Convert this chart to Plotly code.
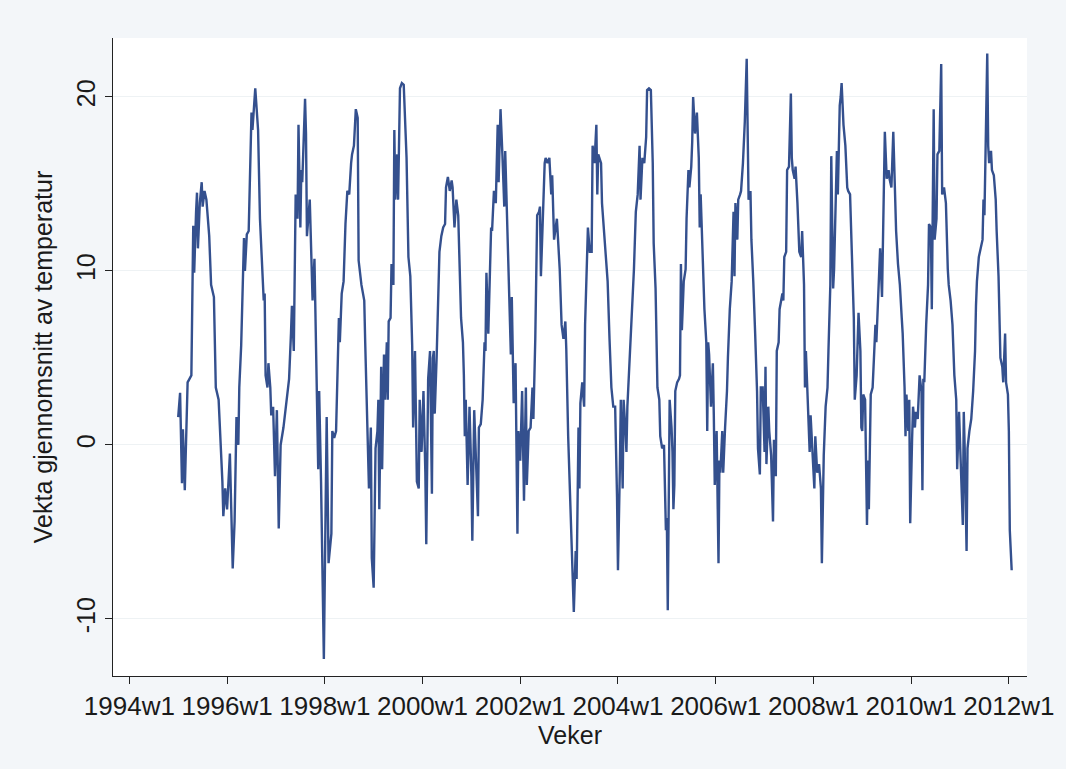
import plotly.graph_objects as go

# x = week index counted from 1994w1 (Stata weekly: 52 weeks per year)
tick_labels = ["1994w1", "1996w1", "1998w1", "2000w1", "2002w1",
               "2004w1", "2006w1", "2008w1", "2010w1", "2012w1"]
y_ticks = [-10, 0, 10, 20]

wk_95_96 = [52, 54, 56, 57, 59, 61, 62, 64, 66, 68, 69, 71, 72, 73, 75, 77, 78, 80, 82, 85,
            87, 90, 92, 95, 97, 99, 100, 102, 104, 107, 109, 110, 112, 114, 116, 117, 119, 120,
            122, 123, 125, 127, 130, 131, 134, 137, 139, 143, 144, 145, 147]
t_95_96 = [1.6, 3.0, -2.2, 0.9, -2.6, 1.4, 3.6, 3.8, 4.0, 12.6, 9.9, 13.4, 14.5, 11.3, 13.9, 15.1,
           13.7, 14.6, 14.1, 12.0, 9.2, 8.5, 3.3, 2.6, 0.3, -2.1, -4.1, -2.5, -3.7, -0.5, -4.9,
           -7.1, -4.4, 1.6, 0.0, 3.3, 5.7, 8.5, 11.9, 10.0, 12.1, 12.3, 19.1, 18.1, 20.5, 18.1,
           13.0, 8.3, 8.7, 4.0, 3.3]

wk_97_98 = [148, 150, 151, 153, 155, 157, 159, 161, 164, 167, 170, 172, 173, 175, 177, 179, 180,
            182, 183, 184, 187, 188, 189, 192, 194, 195, 197, 199, 201, 202, 204, 207, 208, 210,
            212, 215, 216, 218, 220, 222, 223, 224, 226, 228, 230, 232, 234, 236, 237, 239, 241,
            243, 244, 247, 250, 251]
t_97_98 = [4.7, 3.3, 1.7, 2.2, -1.8, 2.0, -4.8, 0.0, 1.0, 2.6, 3.8, 6.4, 8.0, 5.4, 14.4, 13.0,
           18.4, 12.5, 15.8, 15.1, 19.9, 17.9, 12.0, 14.1, 10.8, 8.3, 10.7, 3.3, -1.4, 3.1, -2.1,
           -12.3, -6.8, 1.6, -6.8, -5.1, 0.8, 0.4, 0.8, 4.7, 7.3, 5.9, 8.7, 9.4, 12.7, 14.6, 14.4,
           16.2, 16.7, 17.2, 19.3, 18.8, 10.6, 9.2, 8.3, 5.9]

wk_99_00 = [253, 255, 257, 258, 260, 262, 264, 265, 266, 268, 269, 271, 272, 274, 275, 276, 278,
            279, 281, 282, 283, 285, 286, 288, 290, 292, 294, 295, 297, 299, 301, 302, 304, 306,
            308, 309, 311, 313, 315, 316, 318, 320, 322, 323, 324, 325, 327, 329, 330, 332, 334,
            336, 337, 339, 341, 343, 344, 346, 348, 350, 351, 353, 355, 356, 357]
t_99_00 = [1.7, -2.5, 1.0, -6.5, -8.2, -0.2, 0.8, 2.6, -3.7, 4.5, -1.4, 5.2, 2.6, 5.9, 2.6, 7.1,
           7.3, 10.4, 9.2, 18.1, 14.1, 16.7, 14.1, 20.5, 20.8, 20.7, 17.9, 16.5, 10.8, 9.7, 5.7,
           1.0, 5.4, -2.1, -2.5, 2.6, -0.4, 3.1, -1.6, -5.7, 3.8, 5.4, -2.8, 5.0, 5.4, 1.8, 5.0,
           9.2, 11.1, 12.0, 12.5, 12.7, 14.8, 15.4, 14.6, 15.2, 14.8, 12.5, 14.1, 13.2, 10.6, 7.3,
           5.9, 4.0, 0.5]

wk_01_02 = [358, 360, 362, 364, 365, 367, 369, 371, 372, 374, 376, 378, 379, 380, 382, 383, 385,
            386, 388, 390, 392, 393, 395, 397, 399, 400, 402, 404, 406, 407, 409, 411, 413, 414,
            416, 418, 420, 422, 423, 425, 427, 429, 430, 432, 434, 436, 437, 438, 440, 442, 443,
            445, 447, 449, 450, 452, 455, 457, 458, 460, 462]
t_01_02 = [2.6, -2.3, 2.2, -1.8, -5.5, 2.0, -1.1, -4.1, 1.0, 1.2, 2.6, 5.9, 5.4, 9.9, 6.4, 8.5,
           12.5, 12.3, 14.6, 13.9, 18.4, 15.1, 19.3, 16.7, 13.7, 16.9, 13.4, 9.7, 5.2, 8.5, 2.4,
           4.7, -5.1, 0.8, -0.9, 3.1, -3.2, 3.3, -2.3, 0.8, 1.0, 3.3, 1.5, 6.1, 13.2, 13.4, 13.7,
           9.7, 13.4, 16.2, 16.5, 16.2, 16.5, 14.4, 15.5, 11.8, 13.0, 10.8, 10.1, 6.9, 6.1]

wk_03_04 = [464, 465, 467, 469, 471, 472, 473, 475, 476, 478, 479, 480, 482, 484, 485, 487, 488,
            490, 492, 493, 495, 497, 498, 499, 502, 503, 505, 508, 509, 511, 513, 515, 517, 519,
            520, 522, 523, 525, 526, 528, 529, 530, 532, 534, 536, 537, 539, 541, 543, 544, 546,
            548, 550, 551, 553, 555, 557, 558, 560, 562, 564, 565, 567]
t_03_04 = [7.1, 5.5, 0.5, -2.8, -5.1, -7.7, -9.6, -6.1, -7.7, 1.0, -2.5, 2.4, 3.6, 2.2, 6.9, 10.6,
           12.5, 11.1, 11.1, 17.2, 16.2, 18.4, 14.4, 16.7, 16.2, 13.9, 12.3, 10.1, 9.4, 6.1, 3.3,
           2.2, 2.2, -3.0, -7.2, -1.4, 2.6, -2.5, 2.6, 0.8, -0.4, 2.2, 4.5, 6.1, 8.7, 10.1, 13.4,
           14.4, 17.2, 14.1, 16.5, 16.2, 17.7, 20.4, 20.5, 20.4, 16.2, 11.6, 9.0, 3.3, 2.6, 0.5,
           -0.2]

wk_05_06 = [569, 571, 572, 573, 574, 575, 577, 578, 579, 580, 581, 583, 585, 586, 587, 588, 590,
            592, 593, 595, 596, 598, 599, 600, 602, 604, 606, 607, 608, 610, 612, 614, 615, 616,
            617, 619, 621, 622, 623, 625, 627, 628, 629, 631, 632, 634, 636, 637, 639, 641, 643,
            644, 645, 647, 648, 650, 651, 653, 655, 657, 658, 659, 661, 662, 664, 665, 666, 668,
            669, 671, 672]
t_05_06 = [0.0, -4.9, -4.2, -9.5, -3.7, 2.6, 1.0, -0.4, -3.7, -2.3, 3.1, 3.6, 3.8, 4.0, 10.4, 6.6,
           9.4, 10.1, 13.0, 15.8, 14.8, 16.0, 17.4, 20.0, 17.9, 19.1, 16.5, 12.5, 14.4, 10.4, 7.8,
           5.9, 0.8, 5.9, 5.2, 2.2, 4.7, 1.7, -2.3, 0.8, -6.8, -0.9, -1.6, 0.8, -1.6, 1.0, 3.1,
           5.0, 7.8, 9.4, 13.4, 9.7, 13.9, 11.8, 14.1, 14.4, 14.6, 16.2, 18.6, 22.2, 17.4, 14.1,
           14.6, 11.8, 9.4, 7.3, 6.4, 3.1, -0.2, -1.7, 3.3]

wk_07_08 = [674, 676, 677, 678, 680, 681, 683, 685, 686, 688, 689, 691, 692, 695, 696, 697, 699,
            700, 702, 704, 705, 706, 708, 709, 711, 713, 715, 716, 718, 719, 720, 723, 724, 725,
            727, 729, 730, 732, 734, 736, 737, 739, 741, 743, 744, 746, 747, 749, 750, 751, 753,
            754, 756, 757, 758, 760, 762, 764, 765, 767, 769, 771, 772, 774, 776, 778, 779]
t_07_08 = [3.3, -0.4, 4.5, -1.1, 2.2, 0.8, -0.6, -4.4, 0.3, -1.8, 5.4, 5.9, 7.8, 8.7, 8.3, 10.8,
           11.1, 15.8, 16.0, 20.2, 16.5, 15.8, 15.3, 16.0, 13.9, 11.1, 10.8, 12.3, 9.2, 3.3, 5.4,
           1.7, -0.4, 1.7, -0.6, -2.5, 0.5, -1.6, -1.1, -2.5, -6.8, -0.6, 2.2, 3.3, 5.4, 9.2, 16.6,
           9.0, 10.1, 12.5, 16.9, 14.4, 19.5, 20.0, 20.8, 18.4, 17.2, 14.8, 14.6, 14.4, 11.1, 7.3,
           2.6, 4.0, 7.6, 5.4, 1.0]

wk_09_10 = [780, 781, 783, 785, 786, 787, 789, 791, 792, 794, 795, 797, 799, 801, 802, 804, 806,
            808, 809, 811, 813, 815, 816, 818, 820, 822, 823, 825, 826, 827, 829, 830, 831, 833,
            834, 836, 837, 839, 841, 843, 844, 845, 846, 848, 850, 851, 853, 854, 856, 857, 859,
            860, 862, 864, 865, 867, 869, 871, 872]
t_09_10 = [0.8, 2.9, 2.6, -4.6, -0.9, -3.7, 2.9, 3.3, 4.5, 6.9, 5.9, 8.7, 11.3, 8.5, 11.6, 18.0,
           15.3, 15.8, 15.3, 14.8, 18.0, 14.1, 12.3, 10.4, 9.2, 7.3, 6.4, 3.3, 0.5, 2.9, 0.8, 2.6,
           -4.5, 0.3, 2.2, 1.0, 1.9, 1.5, 4.0, 3.1, -2.6, 3.8, 3.6, 6.9, 9.2, 12.7, 12.5, 7.8,
           19.3, 11.8, 13.0, 16.7, 16.9, 21.9, 14.4, 14.8, 13.9, 10.1, 9.2]

wk_11_12 = [874, 876, 878, 880, 881, 883, 885, 887, 888, 889, 891, 892, 894, 896, 898, 900, 901,
            902, 904, 906, 908, 909, 910, 911, 913, 914, 915, 917, 918, 920, 922, 923, 925, 927,
            929, 930, 932, 933, 935, 936, 937, 939]
t_11_12 = [8.3, 6.9, 4.0, 2.6, -1.4, 1.9, -1.4, -4.6, 1.9, -0.2, -6.1, -0.2, 0.8, 1.5, 3.1, 5.4,
           8.0, 9.4, 10.8, 11.3, 11.8, 14.1, 13.2, 16.2, 22.5, 17.2, 16.2, 16.9, 15.8, 15.5, 14.1,
           12.3, 9.7, 5.0, 4.5, 3.6, 6.4, 3.6, 2.9, 0.8, -4.9, -7.2]

weeks = wk_95_96 + wk_97_98 + wk_99_00 + wk_01_02 + wk_03_04 + wk_05_06 + wk_07_08 + wk_09_10 + wk_11_12
temps = t_95_96 + t_97_98 + t_99_00 + t_01_02 + t_03_04 + t_05_06 + t_07_08 + t_09_10 + t_11_12

tick_vals = [104 * i for i in range(len(tick_labels))]

font = "Liberation Sans, Arial, Helvetica, sans-serif"

fig = go.Figure(go.Scatter(x=weeks, y=temps, mode="lines",
                           line=dict(color="#34508E", width=2.4), hoverinfo="x+y"))

fig.update_layout(
    width=1066, height=769,
    margin=dict(l=113, r=29, t=38, b=93),
    paper_bgcolor="#F3F6F9",
    plot_bgcolor="#FFFFFF",
    showlegend=False,
    font=dict(family=font, size=25, color="#1a1a1a"),
)
fig.update_xaxes(
    range=[-17.4, 955.3], tickvals=tick_vals, ticktext=tick_labels,
    showgrid=False, zeroline=False, showline=True, linecolor="#222", linewidth=1,
    ticks="outside", ticklen=7, tickcolor="#222", tickwidth=1,
    tickfont=dict(size=26), title=dict(text="Veker", font=dict(size=25), standoff=3),
)
fig.update_yaxes(
    range=[-13.28, 23.39], tickvals=y_ticks, ticktext=[str(v) for v in y_ticks],
    tickangle=-90, showgrid=True, gridcolor="#EEF2F4", gridwidth=1,
    zeroline=False, showline=True, linecolor="#222", linewidth=1,
    ticks="outside", ticklen=7, tickcolor="#222", tickwidth=1,
    tickfont=dict(size=25),
    title=dict(text="Vekta gjennomsnitt av temperatur", font=dict(size=25), standoff=12),
)

fig.write_html("out.html")
